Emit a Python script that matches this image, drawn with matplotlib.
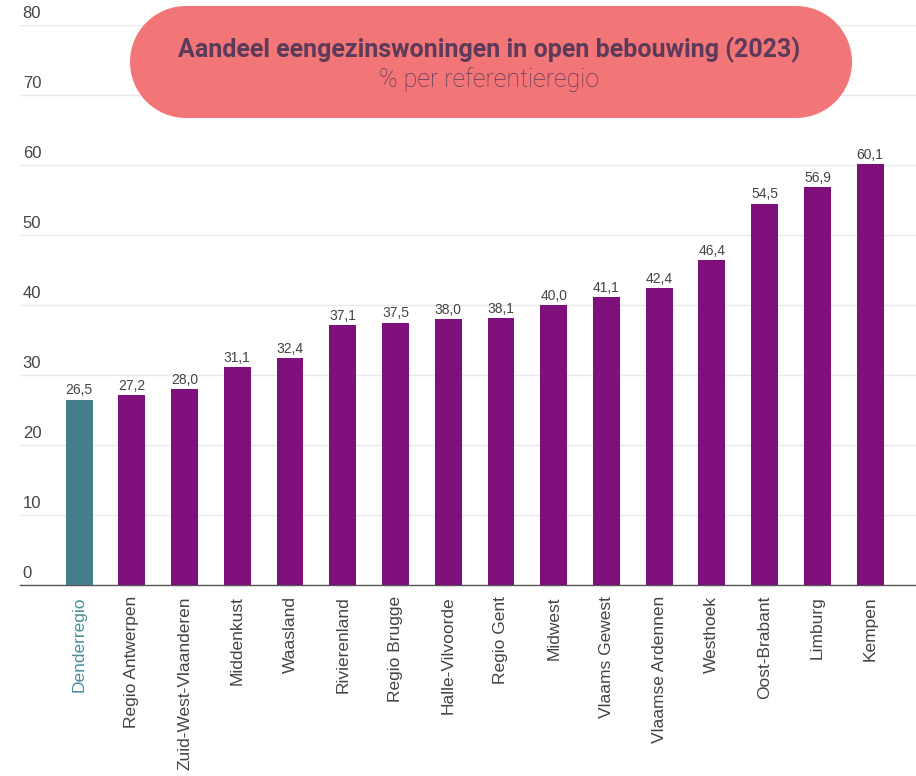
import matplotlib.pyplot as plt
from matplotlib.patches import Rectangle, Circle

regions = ["Denderregio", "Regio Antwerpen", "Zuid-West-Vlaanderen", "Middenkust",
           "Waasland", "Rivierenland", "Regio Brugge", "Halle-Vilvoorde",
           "Regio Gent", "Midwest", "Vlaams Gewest", "Vlaamse Ardennen",
           "Westhoek", "Oost-Brabant", "Limburg", "Kempen"]
values = [26.5, 27.2, 28.0, 31.1, 32.4, 37.1, 37.5, 38.0,
          38.1, 40.0, 41.1, 42.4, 46.4, 54.5, 56.9, 60.1]
yticks = [0, 10, 20, 30, 40, 50, 60, 70, 80]

W, H = 916, 776
purple = "#7e0f7b"
teal = "#457f8c"
grey = "#444444"

plt.rcParams['font.family'] = ['Liberation Sans', 'DejaVu Sans']

fig = plt.figure(figsize=(W / 100, H / 100), dpi=100)
ax = fig.add_axes([20 / W, (H - 585) / H, 896 / W, 560 / H])

colors = [teal if r == "Denderregio" else purple for r in regions]
x = list(range(len(regions)))
ax.bar(x, values, width=0.51, color=colors, zorder=3)

for xi, v in zip(x, values):
    ax.text(xi, v + 0.3, f"{v:.1f}".replace(".", ","), ha="center", va="bottom",
            fontsize=10, color=grey, zorder=4)

ax.set_xlim(-1.12, 15.87)
ax.set_ylim(0, 80)
ax.set_yticks(yticks)
ax.set_yticklabels([])
ax.tick_params(axis="y", length=0)
ax.grid(axis="y", color="#e8e8e8", linewidth=1, zorder=0)
for yt in yticks:
    ax.text(0.003, yt + 0.6, str(yt), transform=ax.get_yaxis_transform(),
            ha="left", va="bottom", fontsize=12, color=grey)

ax.set_xticks(x)
ax.set_xticklabels(regions, rotation=90, fontsize=12.5, color=grey, va="top")
ax.get_xticklabels()[0].set_color("#4a8f9c")
ax.tick_params(axis="x", length=0, pad=8)

for s in ["top", "right", "left"]:
    ax.spines[s].set_visible(False)
ax.spines["bottom"].set_color("#555555")
ax.spines["bottom"].set_linewidth(1)

# title pill
top = fig.add_axes([0, 0, 1, 1], zorder=10)
top.set_xlim(0, W)
top.set_ylim(H, 0)
top.axis("off")
pill_col = "#f27577"
r = 56
x0, x1, yc = 130, 852, 62
top.add_patch(Rectangle((x0 + r, yc - r), x1 - x0 - 2 * r, 2 * r, facecolor=pill_col, edgecolor="none"))
top.add_patch(Circle((x0 + r, yc), r, facecolor=pill_col, edgecolor="none"))
top.add_patch(Circle((x1 - r, yc), r, facecolor=pill_col, edgecolor="none"))
top.text(489, 50, "Aandeel eengezinswoningen in open bebouwing (2023)",
         ha="center", va="center", fontsize=18, fontweight="bold",
         color="#5b3a5a", family=["Roboto", "DejaVu Sans"])
top.text(489, 80, "% per referentieregio", ha="center", va="center",
         fontsize=18, fontweight="light", color="#5b3a5a",
         family=["Roboto", "DejaVu Sans"])

fig.savefig("out.png", dpi=100)
